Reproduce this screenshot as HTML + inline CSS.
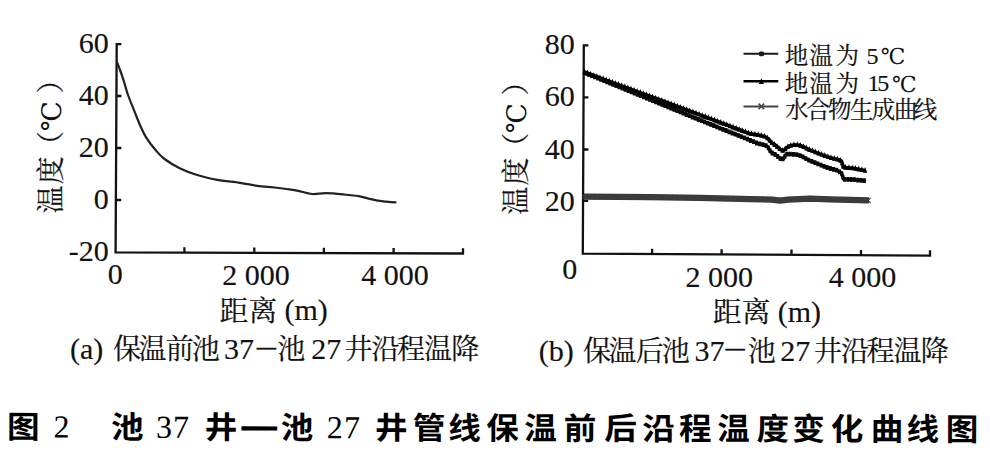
<!DOCTYPE html>
<html lang="zh-CN">
<head>
<meta charset="utf-8">
<title>图 2 池 37 井—池 27 井管线保温前后沿程温度变化曲线图</title>
<style>
html,body{margin:0;padding:0;background:#fff;}
body{width:990px;height:462px;overflow:hidden;position:relative;}
svg{position:absolute;left:0;top:0;display:block;}
.n{font-family:"Liberation Serif",serif;fill:#111;font-size:30px;stroke:#111;stroke-width:0.15px;}
.sc{font-family:"Noto Serif CJK SC","Liberation Serif",serif;fill:#111;stroke:#111;stroke-width:0.2px;}
.t{font-family:"Liberation Sans","Noto Sans CJK SC",sans-serif;font-weight:700;fill:#000;font-size:31px;}
.dg{font-family:"DejaVu Serif","Noto Serif CJK SC",serif;fill:#111;}
.tn{font-family:"Liberation Serif",serif;fill:#000;font-size:32px;}
</style>
</head>
<body>
<svg width="990" height="462" viewBox="0 0 990 462">
  <rect width="990" height="462" fill="#fff"/>

  <!-- ================= LEFT CHART (a) ================= -->
  <g stroke="#111" stroke-width="2.3" fill="none" stroke-linejoin="miter" stroke-linecap="butt">
    <path d="M121.4 44.1 H116.7 L115.6 252.3 L463 253.5 V248.3"/>
    <path d="M116.5 96 H121.4 M116.3 148 H121.4 M116 200 H121.2"/>
    <path d="M184.4 252.5 V247.3 M254.3 252.8 V247.5 M323.9 253 V247.8 M393.6 253.2 V248"/>
  </g>
  <g class="n" text-anchor="end">
    <text x="108.8" y="52.8">60</text>
    <text x="108.8" y="104.7">40</text>
    <text x="108.8" y="156.6">20</text>
    <text x="108.8" y="208.6">0</text>
    <text x="108.8" y="260.5">-20</text>
  </g>
  <g class="n" text-anchor="middle">
    <text x="115.2" y="284">0</text>
    <text x="256" y="284.8">2 000</text>
    <text x="395" y="285.2">4 000</text>
  </g>
  <text class="sc" font-size="28.8" x="219.5 248.6" y="320.6">距离</text>
  <text class="n" x="284.4" y="320.4">(m)</text>
  <g transform="translate(60.5 213.5) rotate(-90)">
    <text class="sc" font-size="28" x="0 29.2 54.5" y="0">温度（</text>
    <text class="dg" font-size="27" x="82.2" y="0">℃</text>
    <text class="sc" font-size="28" x="119.9" y="0">）</text>
  </g>

  <path fill="none" stroke="#222" stroke-width="2.2" stroke-linejoin="round" stroke-linecap="round" d="M117.2 62.4 C117.6 63.5 118.5 65.8 119.6 68.8 C120.7 71.8 122.2 75.8 123.6 80.3 C125.0 84.8 126.4 90.5 128.2 95.5 C130.0 100.5 132.2 105.5 134.2 110.6 C136.2 115.6 138.3 121.2 140.3 125.8 C142.3 130.3 143.9 133.9 146.4 137.9 C148.9 141.9 152.5 146.5 155.5 150.0 C158.5 153.5 160.5 156.0 164.5 159.0 C168.5 162.0 174.6 165.7 179.7 168.2 C184.8 170.7 188.8 172.3 194.8 174.2 C200.9 176.1 208.5 178.3 216.0 179.7 C223.5 181.1 233.1 181.8 240.0 182.8 C246.9 183.8 251.5 185.0 257.2 185.8 C262.9 186.6 269.0 186.9 274.4 187.5 C279.8 188.1 285.5 188.8 289.5 189.4 C293.5 190.0 294.6 190.0 298.4 190.8 C302.2 191.6 307.6 193.6 312.2 194.0 C316.8 194.4 320.8 193.1 325.9 193.2 C331.0 193.3 337.7 193.9 343.1 194.4 C348.6 194.9 354.3 195.4 358.6 196.1 C362.9 196.8 365.8 197.9 368.9 198.7 C372.0 199.5 374.6 200.2 377.5 200.7 C380.4 201.2 383.0 201.3 386.0 201.6 C389.0 201.9 393.9 202.3 395.5 202.4"/>

  <!-- caption (a) -->
  <text class="n" x="69.9" y="359">(a)</text>
  <text class="sc" font-size="28" x="112.9 138.5 165.7 191.8" y="359">保温前池</text>
  <text class="n" x="224.1" y="359">37</text>
  <text class="sc" font-size="24" x="255.7" y="354.5" style="stroke-width:0.5px">—</text>
  <text class="sc" font-size="28" x="277.3" y="359">池</text>
  <text class="n" x="311.2" y="359">27</text>
  <text class="sc" font-size="28" x="344.4 371.5 397 423.9 451.2" y="359">井沿程温降</text>

  <!-- ================= RIGHT CHART (b) ================= -->
  <g stroke="#111" stroke-width="2.3" fill="none" stroke-linejoin="miter" stroke-linecap="butt">
    <path d="M588.4 45.3 H583.8 L582.8 253.6 L930 255.6 V250.3"/>
    <path d="M583.6 97.4 H588.4 M583.3 149.5 H588.4 M583 200.8 H588.2"/>
    <path d="M652.1 254 V248.8 M721.6 254.4 V249.2 M791.5 254.8 V249.6 M861 255.2 V250"/>
  </g>
  <g class="n" text-anchor="end">
    <text x="574.8" y="54.3">80</text>
    <text x="574.8" y="106.4">60</text>
    <text x="574.8" y="158.5">40</text>
    <text x="574.8" y="210.5">20</text>
  </g>
  <g class="n" text-anchor="middle">
    <text x="569.7" y="279">0</text>
    <text x="719.2" y="286.8">2 000</text>
    <text x="862.5" y="287.4">4 000</text>
  </g>
  <text class="sc" font-size="28.8" x="712.8 741.8" y="322.4">距离</text>
  <text class="n" x="777.8" y="322.2">(m)</text>
  <g transform="translate(525.5 214.8) rotate(-90)">
    <text class="sc" font-size="28" x="0 29.2 54" y="0">温度（</text>
    <text class="dg" font-size="27" x="81.6" y="0">℃</text>
    <text class="sc" font-size="28" x="119.4" y="0">）</text>
  </g>

  <!-- hydrate-formation curve -->
  <path fill="none" stroke="#383838" stroke-width="6.3" stroke-linejoin="round" d="M584.0 196.6 L650.0 197.2 L700.0 197.8 L750.0 199.1 L772.0 199.6 L780.0 200.6 L788.0 199.6 L810.0 198.7 L830.0 199.4 L869.0 200.4"/>
  <path fill="none" stroke="#3e3e3e" stroke-width="1.3" d="M582.0 194.1l5 5m0 -5l-5 5M586.3 194.1l5 5m0 -5l-5 5M590.6 194.2l5 5m0 -5l-5 5M594.9 194.2l5 5m0 -5l-5 5M599.2 194.3l5 5m0 -5l-5 5M603.5 194.3l5 5m0 -5l-5 5M607.8 194.3l5 5m0 -5l-5 5M612.1 194.4l5 5m0 -5l-5 5M616.4 194.4l5 5m0 -5l-5 5M620.7 194.5l5 5m0 -5l-5 5M625.0 194.5l5 5m0 -5l-5 5M629.3 194.5l5 5m0 -5l-5 5M633.6 194.6l5 5m0 -5l-5 5M637.9 194.6l5 5m0 -5l-5 5M642.2 194.7l5 5m0 -5l-5 5M646.5 194.7l5 5m0 -5l-5 5M650.8 194.7l5 5m0 -5l-5 5M655.1 194.8l5 5m0 -5l-5 5M659.4 194.8l5 5m0 -5l-5 5M663.7 194.9l5 5m0 -5l-5 5M668.0 194.9l5 5m0 -5l-5 5M672.3 195.0l5 5m0 -5l-5 5M676.6 195.0l5 5m0 -5l-5 5M680.9 195.1l5 5m0 -5l-5 5M685.2 195.2l5 5m0 -5l-5 5M689.5 195.2l5 5m0 -5l-5 5M693.8 195.3l5 5m0 -5l-5 5M698.1 195.3l5 5m0 -5l-5 5M702.4 195.4l5 5m0 -5l-5 5M706.7 195.5l5 5m0 -5l-5 5M711.0 195.7l5 5m0 -5l-5 5M715.3 195.8l5 5m0 -5l-5 5M719.6 195.9l5 5m0 -5l-5 5M723.9 196.0l5 5m0 -5l-5 5M728.2 196.1l5 5m0 -5l-5 5M732.5 196.2l5 5m0 -5l-5 5M736.8 196.3l5 5m0 -5l-5 5M741.1 196.4l5 5m0 -5l-5 5M745.4 196.5l5 5m0 -5l-5 5M749.7 196.6l5 5m0 -5l-5 5M754.0 196.7l5 5m0 -5l-5 5M758.3 196.8l5 5m0 -5l-5 5M762.6 196.9l5 5m0 -5l-5 5M766.9 197.0l5 5m0 -5l-5 5M771.2 197.3l5 5m0 -5l-5 5M775.4 197.8l5 5m0 -5l-5 5M779.7 197.8l5 5m0 -5l-5 5M784.0 197.3l5 5m0 -5l-5 5M788.2 197.0l5 5m0 -5l-5 5M792.5 196.8l5 5m0 -5l-5 5M796.8 196.6l5 5m0 -5l-5 5M801.1 196.5l5 5m0 -5l-5 5M805.4 196.3l5 5m0 -5l-5 5M809.7 196.3l5 5m0 -5l-5 5M814.0 196.4l5 5m0 -5l-5 5M818.3 196.6l5 5m0 -5l-5 5M822.6 196.7l5 5m0 -5l-5 5M826.9 196.9l5 5m0 -5l-5 5M831.2 197.0l5 5m0 -5l-5 5M835.5 197.1l5 5m0 -5l-5 5M839.8 197.2l5 5m0 -5l-5 5M844.1 197.3l5 5m0 -5l-5 5M848.4 197.4l5 5m0 -5l-5 5M852.7 197.5l5 5m0 -5l-5 5M857.0 197.7l5 5m0 -5l-5 5M861.3 197.8l5 5m0 -5l-5 5M865.6 197.9l5 5m0 -5l-5 5"/>
  <!-- 5 deg C curve (lower), square markers -->
  <path fill="none" stroke="#0a0a0a" stroke-width="3.3" stroke-linejoin="round" d="M583.6 72.3 L600.0 79.1 L620.0 87.3 L640.0 95.5 L660.0 103.7 L680.0 111.9 L700.0 120.1 L720.0 128.1 L740.0 136.2 L750.0 140.3 L757.8 143.5 L764.6 145.0 L767.5 146.4 L771.0 152.3 L776.3 155.2 L781.2 159.6 L783.6 158.6 L786.0 154.2 L791.0 154.2 L796.8 154.7 L801.7 156.2 L808.5 160.1 L818.2 164.0 L828.0 167.9 L837.1 170.3 L841.5 173.0 L843.6 179.3 L853.4 179.6 L865.7 180.9"/>
  <path fill="#0a0a0a" d="M584.0 70.7h3.0v4.8h-3.0zM587.0 71.9h3.0v4.8h-3.0zM590.1 73.2h3.0v4.8h-3.0zM593.1 74.5h3.0v4.8h-3.0zM596.2 75.7h3.0v4.8h-3.0zM599.2 77.0h3.0v4.8h-3.0zM602.3 78.2h3.0v4.8h-3.0zM605.3 79.5h3.0v4.8h-3.0zM608.4 80.7h3.0v4.8h-3.0zM611.4 82.0h3.0v4.8h-3.0zM614.5 83.2h3.0v4.8h-3.0zM617.5 84.5h3.0v4.8h-3.0zM620.6 85.7h3.0v4.8h-3.0zM623.6 87.0h3.0v4.8h-3.0zM626.7 88.2h3.0v4.8h-3.0zM629.7 89.5h3.0v4.8h-3.0zM632.8 90.7h3.0v4.8h-3.0zM635.8 92.0h3.0v4.8h-3.0zM638.9 93.3h3.0v4.8h-3.0zM642.0 94.5h3.0v4.8h-3.0zM645.0 95.8h3.0v4.8h-3.0zM648.1 97.0h3.0v4.8h-3.0zM651.1 98.3h3.0v4.8h-3.0zM654.2 99.5h3.0v4.8h-3.0zM657.2 100.8h3.0v4.8h-3.0zM660.3 102.0h3.0v4.8h-3.0zM663.3 103.3h3.0v4.8h-3.0zM666.4 104.5h3.0v4.8h-3.0zM669.4 105.8h3.0v4.8h-3.0zM672.5 107.0h3.0v4.8h-3.0zM675.5 108.3h3.0v4.8h-3.0zM678.6 109.5h3.0v4.8h-3.0zM681.6 110.8h3.0v4.8h-3.0zM684.7 112.1h3.0v4.8h-3.0zM687.7 113.3h3.0v4.8h-3.0zM690.8 114.6h3.0v4.8h-3.0zM693.8 115.8h3.0v4.8h-3.0zM696.9 117.1h3.0v4.8h-3.0zM700.0 118.3h3.0v4.8h-3.0zM703.0 119.5h3.0v4.8h-3.0zM706.1 120.8h3.0v4.8h-3.0zM709.1 122.0h3.0v4.8h-3.0zM712.2 123.2h3.0v4.8h-3.0zM715.3 124.4h3.0v4.8h-3.0zM718.3 125.7h3.0v4.8h-3.0zM721.4 126.9h3.0v4.8h-3.0zM724.5 128.1h3.0v4.8h-3.0zM727.5 129.4h3.0v4.8h-3.0zM730.6 130.6h3.0v4.8h-3.0zM733.7 131.8h3.0v4.8h-3.0zM736.7 133.0h3.0v4.8h-3.0zM739.8 134.3h3.0v4.8h-3.0zM742.8 135.5h3.0v4.8h-3.0zM745.9 136.8h3.0v4.8h-3.0zM748.9 138.1h3.0v4.8h-3.0zM752.0 139.3h3.0v4.8h-3.0zM755.0 140.6h3.0v4.8h-3.0zM758.2 141.5h3.0v4.8h-3.0zM761.4 142.2h3.0v4.8h-3.0zM764.5 143.3h3.0v4.8h-3.0zM766.8 145.4h3.0v4.8h-3.0zM768.5 148.2h3.0v4.8h-3.0zM770.7 150.6h3.0v4.8h-3.0zM773.6 152.1h3.0v4.8h-3.0zM776.2 154.1h3.0v4.8h-3.0zM778.7 156.3h3.0v4.8h-3.0zM781.5 156.4h3.0v4.8h-3.0zM783.4 153.9h3.0v4.8h-3.0zM785.4 151.8h3.0v4.8h-3.0zM788.7 151.8h3.0v4.8h-3.0zM792.0 152.0h3.0v4.8h-3.0zM795.3 152.3h3.0v4.8h-3.0zM798.5 153.3h3.0v4.8h-3.0zM801.5 154.5h3.0v4.8h-3.0zM804.4 156.2h3.0v4.8h-3.0zM807.2 157.8h3.0v4.8h-3.0zM810.3 159.0h3.0v4.8h-3.0zM813.4 160.3h3.0v4.8h-3.0zM816.4 161.5h3.0v4.8h-3.0zM819.5 162.7h3.0v4.8h-3.0zM822.6 163.9h3.0v4.8h-3.0zM825.6 165.1h3.0v4.8h-3.0zM828.8 166.1h3.0v4.8h-3.0zM832.0 166.9h3.0v4.8h-3.0zM835.2 167.8h3.0v4.8h-3.0zM838.0 169.4h3.0v4.8h-3.0zM840.3 171.5h3.0v4.8h-3.0zM841.4 174.7h3.0v4.8h-3.0zM843.0 176.9h3.0v4.8h-3.0zM846.3 177.0h3.0v4.8h-3.0zM849.6 177.1h3.0v4.8h-3.0zM852.9 177.3h3.0v4.8h-3.0zM856.2 177.7h3.0v4.8h-3.0zM859.5 178.0h3.0v4.8h-3.0zM862.8 178.3h3.0v4.8h-3.0z"/>
  <!-- 15 deg C curve (upper), triangle markers -->
  <path fill="none" stroke="#000" stroke-width="3.5" stroke-linejoin="round" d="M583.6 71.8 L600.0 77.9 L620.0 85.3 L640.0 92.7 L660.0 100.0 L680.0 107.4 L700.0 114.8 L720.0 122.4 L740.0 130.0 L750.0 133.8 L759.7 135.2 L764.6 136.4 L768.0 138.6 L771.4 142.5 L776.3 146.0 L780.2 149.4 L783.1 150.8 L786.0 148.4 L789.0 146.0 L793.9 145.0 L798.7 145.0 L802.6 146.4 L808.5 149.4 L818.2 153.3 L830.0 157.7 L838.8 159.8 L841.5 161.0 L843.6 167.5 L853.4 168.2 L865.7 170.8"/>
  <path fill="#000" d="M582.3 74.3l2.2 -5.8l2.2 5.8zM585.4 75.4l2.2 -5.8l2.2 5.8zM588.5 76.6l2.2 -5.8l2.2 5.8zM591.6 77.7l2.2 -5.8l2.2 5.8zM594.7 78.8l2.2 -5.8l2.2 5.8zM597.8 80.0l2.2 -5.8l2.2 5.8zM600.9 81.1l2.2 -5.8l2.2 5.8zM604.0 82.3l2.2 -5.8l2.2 5.8zM607.1 83.4l2.2 -5.8l2.2 5.8zM610.2 84.6l2.2 -5.8l2.2 5.8zM613.3 85.7l2.2 -5.8l2.2 5.8zM616.4 86.8l2.2 -5.8l2.2 5.8zM619.5 88.0l2.2 -5.8l2.2 5.8zM622.6 89.1l2.2 -5.8l2.2 5.8zM625.7 90.3l2.2 -5.8l2.2 5.8zM628.8 91.4l2.2 -5.8l2.2 5.8zM631.9 92.6l2.2 -5.8l2.2 5.8zM635.0 93.7l2.2 -5.8l2.2 5.8zM638.1 94.9l2.2 -5.8l2.2 5.8zM641.2 96.0l2.2 -5.8l2.2 5.8zM644.2 97.1l2.2 -5.8l2.2 5.8zM647.3 98.3l2.2 -5.8l2.2 5.8zM650.4 99.4l2.2 -5.8l2.2 5.8zM653.5 100.6l2.2 -5.8l2.2 5.8zM656.6 101.7l2.2 -5.8l2.2 5.8zM659.7 102.9l2.2 -5.8l2.2 5.8zM662.8 104.0l2.2 -5.8l2.2 5.8zM665.9 105.1l2.2 -5.8l2.2 5.8zM669.0 106.3l2.2 -5.8l2.2 5.8zM672.1 107.4l2.2 -5.8l2.2 5.8zM675.2 108.6l2.2 -5.8l2.2 5.8zM678.3 109.7l2.2 -5.8l2.2 5.8zM681.4 110.9l2.2 -5.8l2.2 5.8zM684.5 112.0l2.2 -5.8l2.2 5.8zM687.6 113.2l2.2 -5.8l2.2 5.8zM690.7 114.3l2.2 -5.8l2.2 5.8zM693.8 115.4l2.2 -5.8l2.2 5.8zM696.9 116.6l2.2 -5.8l2.2 5.8zM700.0 117.7l2.2 -5.8l2.2 5.8zM703.0 118.9l2.2 -5.8l2.2 5.8zM706.1 120.1l2.2 -5.8l2.2 5.8zM709.2 121.3l2.2 -5.8l2.2 5.8zM712.3 122.4l2.2 -5.8l2.2 5.8zM715.4 123.6l2.2 -5.8l2.2 5.8zM718.5 124.8l2.2 -5.8l2.2 5.8zM721.6 125.9l2.2 -5.8l2.2 5.8zM724.6 127.1l2.2 -5.8l2.2 5.8zM727.7 128.3l2.2 -5.8l2.2 5.8zM730.8 129.4l2.2 -5.8l2.2 5.8zM733.9 130.6l2.2 -5.8l2.2 5.8zM737.0 131.8l2.2 -5.8l2.2 5.8zM740.1 133.0l2.2 -5.8l2.2 5.8zM743.2 134.1l2.2 -5.8l2.2 5.8zM746.2 135.3l2.2 -5.8l2.2 5.8zM749.4 136.1l2.2 -5.8l2.2 5.8zM752.7 136.6l2.2 -5.8l2.2 5.8zM755.9 137.1l2.2 -5.8l2.2 5.8zM759.2 137.7l2.2 -5.8l2.2 5.8zM762.4 138.5l2.2 -5.8l2.2 5.8zM765.2 140.3l2.2 -5.8l2.2 5.8zM767.5 142.6l2.2 -5.8l2.2 5.8zM769.7 145.0l2.2 -5.8l2.2 5.8zM772.4 146.9l2.2 -5.8l2.2 5.8zM775.0 148.9l2.2 -5.8l2.2 5.8zM777.5 151.1l2.2 -5.8l2.2 5.8zM780.4 152.7l2.2 -5.8l2.2 5.8zM783.0 151.1l2.2 -5.8l2.2 5.8zM785.6 149.1l2.2 -5.8l2.2 5.8zM788.5 147.8l2.2 -5.8l2.2 5.8zM791.7 147.1l2.2 -5.8l2.2 5.8zM795.0 147.1l2.2 -5.8l2.2 5.8zM798.2 147.7l2.2 -5.8l2.2 5.8zM801.3 149.0l2.2 -5.8l2.2 5.8zM804.2 150.4l2.2 -5.8l2.2 5.8zM807.2 151.9l2.2 -5.8l2.2 5.8zM810.3 153.1l2.2 -5.8l2.2 5.8zM813.3 154.3l2.2 -5.8l2.2 5.8zM816.4 155.5l2.2 -5.8l2.2 5.8zM819.5 156.7l2.2 -5.8l2.2 5.8zM822.6 157.9l2.2 -5.8l2.2 5.8zM825.7 159.0l2.2 -5.8l2.2 5.8zM828.8 160.0l2.2 -5.8l2.2 5.8zM832.0 160.8l2.2 -5.8l2.2 5.8zM835.2 161.6l2.2 -5.8l2.2 5.8zM838.3 162.7l2.2 -5.8l2.2 5.8zM840.0 165.2l2.2 -5.8l2.2 5.8zM841.0 168.4l2.2 -5.8l2.2 5.8zM843.4 169.7l2.2 -5.8l2.2 5.8zM846.7 170.0l2.2 -5.8l2.2 5.8zM850.0 170.2l2.2 -5.8l2.2 5.8zM853.2 170.7l2.2 -5.8l2.2 5.8zM856.5 171.4l2.2 -5.8l2.2 5.8zM859.7 172.1l2.2 -5.8l2.2 5.8zM862.9 172.8l2.2 -5.8l2.2 5.8z"/>

  <!-- legend -->
  <g fill="none">
    <path d="M743.5 53.8 H778.3" stroke="#1a1a1a" stroke-width="2"/>
    <rect x="758.8" y="51.4" width="5.4" height="4.8" rx="1.6" fill="#1a1a1a"/>
    <path d="M743.5 81.2 H778.3" stroke="#000" stroke-width="2.5"/>
    <path d="M758.8 83.9 L761.4 78.3 L764 83.9 Z" fill="#000"/>
    <path d="M743.5 106.5 H778.3" stroke="#444" stroke-width="2"/>
    <path d="M758.6 103.6 L764.2 109.2 M764.2 103.6 L758.6 109.2" stroke="#444" stroke-width="1.6"/>
  </g>
  <text class="sc" font-size="23.5" x="784.7 809.4 835.6" y="64">地温为</text>
  <text class="n" style="font-size:24px" x="866.4" y="63.8">5</text>
  <text class="dg" font-size="22" x="880.8" y="63.8">℃</text>
  <text class="sc" font-size="23.5" x="784.7 809.4 835.6" y="91.6">地温为</text>
  <text class="n" style="font-size:24px" x="867.5 877.2" y="91.4">15</text>
  <text class="dg" font-size="22" x="892" y="91.6">℃</text>
  <text class="sc" font-size="23.5" x="785 806.6 827.9 850.1 871.8 894 913.7" y="118.4">水合物生成曲线</text>

  <!-- caption (b) -->
  <text class="n" x="538.8" y="360.5">(b)</text>
  <text class="sc" font-size="28" x="582.9 608.5 635.7 661.8" y="360.5">保温后池</text>
  <text class="n" x="694.4" y="360.5">37</text>
  <text class="sc" font-size="24" x="724.5" y="356" style="stroke-width:0.5px">—</text>
  <text class="sc" font-size="28" x="747.7" y="360.5">池</text>
  <text class="n" x="780.2" y="360.5">27</text>
  <text class="sc" font-size="28" x="813.9 841 866.5 893.4 920.7" y="360.5">井沿程温降</text>

  <!-- ================= FIGURE TITLE ================= -->
  <g transform="rotate(0.15 7 438)">
    <g transform="scale(1.05 1)">
      <text class="t" x="6.67" y="438">图</text>
      <text class="t" x="105.76" y="438">池</text>
      <text class="t" x="195.05" y="438">井</text>
      <text class="t" x="267.29" y="438">池</text>
      <text class="t" x="357.14 393.10 426.90 463.19 499.38 536.90 575.57 611.67 646.71 683.00 720.52 754.48 791.19 829.29 863.29 900.67" y="438">井管线保温前后沿程温度变化曲线图</text>
    </g>
    <text class="tn" x="53.5" y="437.4">2</text>
    <text class="tn" x="156 173" y="437.4">37</text>
    <text class="t" x="239.2" y="440.3" style="font-size:44px;font-family:'Noto Sans CJK SC',sans-serif">—</text>
    <text class="tn" x="326.7 344" y="437.4">27</text>
  </g>
</svg>
</body>
</html>
